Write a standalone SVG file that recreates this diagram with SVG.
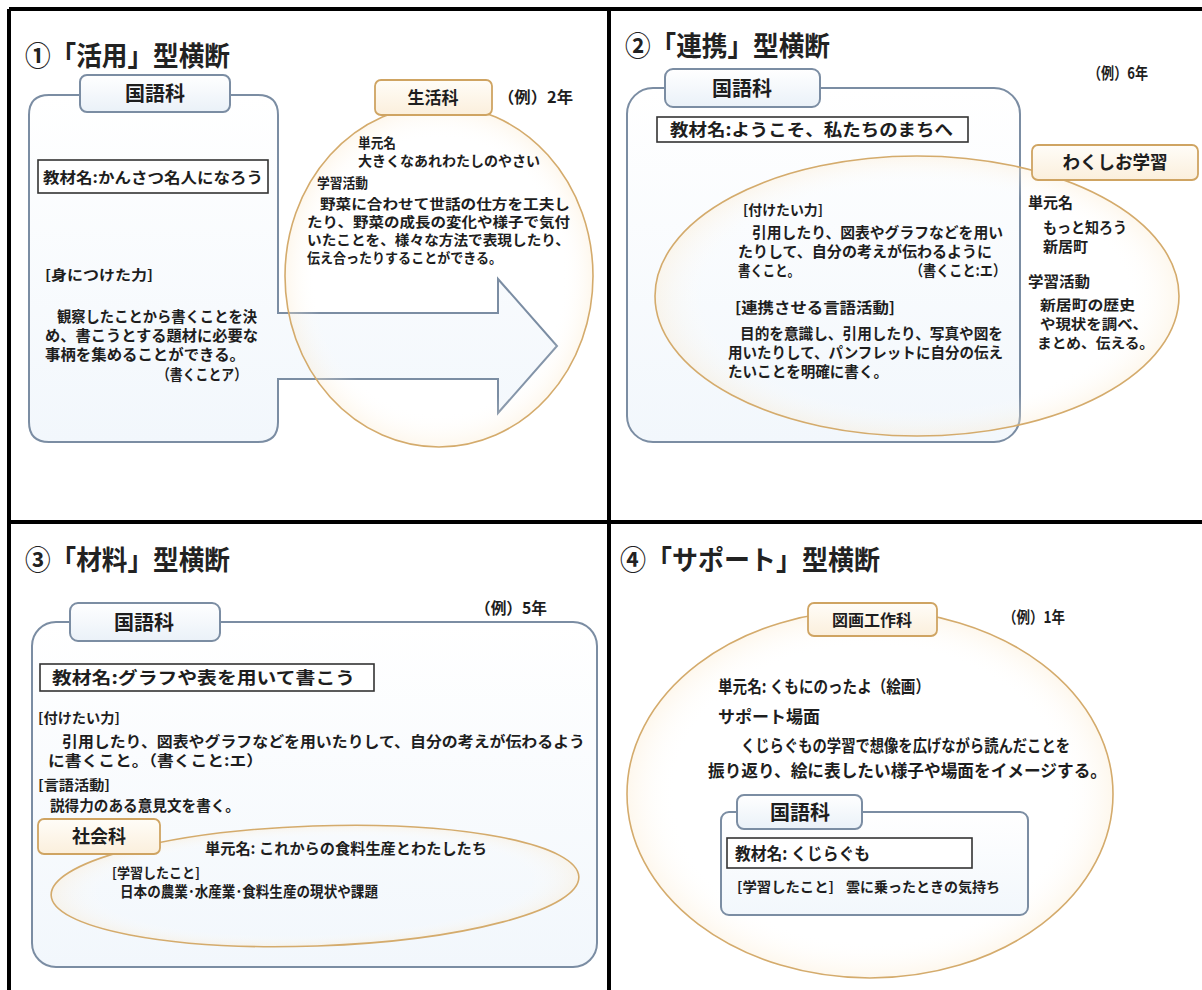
<svg xmlns="http://www.w3.org/2000/svg" width="1202" height="990" viewBox="0 0 1202 990">
<defs>
<style>
.t{font-family:"Noto Sans CJK JP","Noto Sans CJK SC",sans-serif;font-weight:bold;fill:#1e1e1e}
.ti{font-size:27px;fill:#222}
.s14{font-size:14px}.s15{font-size:15px}.s16{font-size:16px}.s17{font-size:17px}.s18{font-size:18px}.s20{font-size:20px}
.mid{text-anchor:middle}
.box{fill:url(#boxg);stroke:#7b8da3;stroke-width:2}
.tabb{fill:url(#tabg);stroke:#7b8da3;stroke-width:2}
.ell{fill:url(#ellg);stroke:#d4ab6c;stroke-width:1.6}
.tabo{fill:url(#tabog);stroke:#cfa462;stroke-width:1.8}
.name{fill:#fff;stroke:#333;stroke-width:1.6}
.frame{stroke:#000;stroke-width:4;fill:none}
</style>
<linearGradient id="boxg" x1="0" y1="0" x2="0" y2="1"><stop offset="0" stop-color="#ffffff"/><stop offset="1" stop-color="#f2f7fc"/></linearGradient>
<linearGradient id="tabg" x1="0" y1="0" x2="0" y2="1"><stop offset="0" stop-color="#ffffff"/><stop offset="1" stop-color="#eaf1f8"/></linearGradient>
<linearGradient id="tabog" x1="0" y1="0" x2="0" y2="1"><stop offset="0" stop-color="#fffdf8"/><stop offset="1" stop-color="#fbefdc"/></linearGradient>
<radialGradient id="ellg" cx="0.5" cy="0.5" r="0.5"><stop offset="0.8" stop-color="#ffffff" stop-opacity="0"/><stop offset="1" stop-color="#fbe9cc" stop-opacity="0.35"/></radialGradient>
</defs>
<rect width="1202" height="990" fill="#fff"/>

<g id="frame">
<path class="frame" d="M9,9 H1202 M9,9 V990 M609,9 V990 M9,522 H1202"/>
</g>

<g id="connectors"></g>

<!-- Quadrant 1 -->
<g id="q1-title"><text class="t ti" x="25" y="66" textLength="205" lengthAdjust="spacingAndGlyphs">①「活用」型横断</text></g>
<g id="q1-kokugo">
<path class="box" d="M49,95 H258 Q278,95 278,115 V313 H498 V279 L557,346 L498,413 V379 H278 V422 Q278,442 258,442 H49 Q29,442 29,422 V115 Q29,95 49,95 Z"/>
<rect class="tabb" x="80" y="75" width="150" height="37" rx="7"/>
<text class="t s20 mid" x="155" y="101">国語科</text>
<rect class="name" x="38" y="160" width="230" height="33"/>
<text class="t s15" x="43" y="183" textLength="220" lengthAdjust="spacingAndGlyphs">教材名:かんさつ名人になろう</text>
<text class="t s14" x="45" y="280" textLength="108" lengthAdjust="spacingAndGlyphs">[身につけた力]</text>
<text class="t s15" x="57" y="322" textLength="200" lengthAdjust="spacingAndGlyphs">観察したことから書くことを決</text>
<text class="t s15" x="45" y="341" textLength="213" lengthAdjust="spacingAndGlyphs">め、書こうとする題材に必要な</text>
<text class="t s15" x="45" y="360" textLength="200" lengthAdjust="spacingAndGlyphs">事柄を集めることができる。</text>
<text class="t s15" x="157" y="380" textLength="90" lengthAdjust="spacingAndGlyphs">（書くことア）</text>
</g>
<g id="q1-seikatsu">
<ellipse class="ell" cx="439" cy="276" rx="154" ry="171"/>
<rect class="tabo" x="375" y="80" width="117" height="35" rx="6"/>
<text class="t s17 mid" x="433" y="104">生活科</text>
<text class="t s16" x="498" y="103" textLength="75" lengthAdjust="spacingAndGlyphs">（例）2年</text>
<text class="t s14" x="358" y="148" textLength="38" lengthAdjust="spacingAndGlyphs">単元名</text>
<text class="t s14" x="358" y="166" textLength="182" lengthAdjust="spacingAndGlyphs">大きくなあれわたしのやさい</text>
<text class="t s14" x="317" y="188" textLength="51" lengthAdjust="spacingAndGlyphs">学習活動</text>
<text class="t s14" x="320" y="209" textLength="250" lengthAdjust="spacingAndGlyphs">野菜に合わせて世話の仕方を工夫し</text>
<text class="t s14" x="307" y="227" textLength="263" lengthAdjust="spacingAndGlyphs">たり、野菜の成長の変化や様子で気付</text>
<text class="t s14" x="307" y="245" textLength="263" lengthAdjust="spacingAndGlyphs">いたことを、様々な方法で表現したり、</text>
<text class="t s14" x="307" y="263" textLength="195" lengthAdjust="spacingAndGlyphs">伝え合ったりすることができる。</text>
</g>

<!-- Quadrant 2 -->
<g id="q2-title"><text class="t ti" x="625" y="56" textLength="205" lengthAdjust="spacingAndGlyphs">②「連携」型横断</text></g>
<g id="q2-kokugo">
<rect class="box" x="627" y="88" width="393" height="354" rx="26"/>
<rect class="tabb" x="665" y="69" width="155" height="38" rx="8"/>
<text class="t s20 mid" x="742" y="96">国語科</text>
<text class="t s16" x="1088" y="79" textLength="60" lengthAdjust="spacingAndGlyphs">（例）6年</text>
<rect class="name" x="657" y="117" width="311" height="25"/>
<text class="t s17" x="670" y="136" textLength="283" lengthAdjust="spacingAndGlyphs">教材名:ようこそ、私たちのまちへ</text>
</g>
<g id="q2-wakushio">
<ellipse class="ell" cx="917" cy="296" rx="262" ry="140"/>
<rect class="tabo" x="1032" y="145" width="166" height="35" rx="6"/>
<text class="t s18 mid" x="1115" y="169" textLength="105" lengthAdjust="spacingAndGlyphs">わくしお学習</text>
<text class="t s14" x="743" y="215" textLength="80" lengthAdjust="spacingAndGlyphs">[付けたい力]</text>
<text class="t s15" x="752" y="238" textLength="251" lengthAdjust="spacingAndGlyphs">引用したり、図表やグラフなどを用い</text>
<text class="t s15" x="738" y="257" textLength="254" lengthAdjust="spacingAndGlyphs">たりして、自分の考えが伝わるように</text>
<text class="t s15" x="738" y="276" textLength="62" lengthAdjust="spacingAndGlyphs">書くこと。</text>
<text class="t s15" x="910" y="276" textLength="96" lengthAdjust="spacingAndGlyphs">（書くこと:エ）</text>
<text class="t s15" x="735" y="313" textLength="160" lengthAdjust="spacingAndGlyphs">[連携させる言語活動]</text>
<text class="t s15" x="740" y="339" textLength="263" lengthAdjust="spacingAndGlyphs">目的を意識し、引用したり、写真や図を</text>
<text class="t s15" x="728" y="358" textLength="275" lengthAdjust="spacingAndGlyphs">用いたりして、パンフレットに自分の伝え</text>
<text class="t s15" x="728" y="377" textLength="160" lengthAdjust="spacingAndGlyphs">たいことを明確に書く。</text>
<text class="t s15" x="1028" y="208" textLength="45" lengthAdjust="spacingAndGlyphs">単元名</text>
<text class="t s15" x="1043" y="233" textLength="84" lengthAdjust="spacingAndGlyphs">もっと知ろう</text>
<text class="t s15" x="1043" y="252" textLength="45" lengthAdjust="spacingAndGlyphs">新居町</text>
<text class="t s15" x="1028" y="287" textLength="62" lengthAdjust="spacingAndGlyphs">学習活動</text>
<text class="t s14" x="1040" y="310" textLength="95" lengthAdjust="spacingAndGlyphs">新居町の歴史</text>
<text class="t s14" x="1040" y="329" textLength="108" lengthAdjust="spacingAndGlyphs">や現状を調べ、</text>
<text class="t s14" x="1037" y="348" textLength="117" lengthAdjust="spacingAndGlyphs">まとめ、伝える。</text>
</g>

<!-- Quadrant 3 -->
<g id="q3-title"><text class="t ti" x="25" y="570" textLength="205" lengthAdjust="spacingAndGlyphs">③「材料」型横断</text></g>
<g id="q3-kokugo">
<rect class="box" x="32" y="622" width="565" height="345" rx="24"/>
<rect class="tabb" x="70" y="603" width="150" height="38" rx="8"/>
<text class="t s20 mid" x="144" y="630">国語科</text>
<text class="t s16" x="475" y="614" textLength="72" lengthAdjust="spacingAndGlyphs">（例）5年</text>
<rect class="name" x="40" y="664" width="334" height="27"/>
<text class="t s17" x="52" y="684" textLength="303" lengthAdjust="spacingAndGlyphs">教材名:グラフや表を用いて書こう</text>
<text class="t s14" x="38" y="723" textLength="82" lengthAdjust="spacingAndGlyphs">[付けたい力]</text>
<text class="t s15" x="62" y="747" textLength="523" lengthAdjust="spacingAndGlyphs">引用したり、図表やグラフなどを用いたりして、自分の考えが伝わるよう</text>
<text class="t s15" x="48" y="766" textLength="215" lengthAdjust="spacingAndGlyphs">に書くこと。（書くこと:エ）</text>
<text class="t s14" x="38" y="790" textLength="72" lengthAdjust="spacingAndGlyphs">[言語活動]</text>
<text class="t s15" x="50" y="811" textLength="190" lengthAdjust="spacingAndGlyphs">説得力のある意見文を書く。</text>
</g>
<g id="q3-shakai">
<ellipse class="ell" cx="315" cy="886" rx="264" ry="60" transform="rotate(-2 315 886)"/>
<rect class="tabo" x="38" y="819" width="122" height="35" rx="6"/>
<text class="t s18 mid" x="99" y="843">社会科</text>
<text class="t s15" x="205" y="854" textLength="282" lengthAdjust="spacingAndGlyphs">単元名: これからの食料生産とわたしたち</text>
<text class="t s14" x="112" y="878" textLength="88" lengthAdjust="spacingAndGlyphs">[学習したこと]</text>
<text class="t s15" x="120" y="897" textLength="258" lengthAdjust="spacingAndGlyphs">日本の農業･水産業･食料生産の現状や課題</text>
</g>

<!-- Quadrant 4 -->
<g id="q4-title"><text class="t ti" x="620" y="570" textLength="260" lengthAdjust="spacingAndGlyphs">④「サポート」型横断</text></g>
<g id="q4-zuga">
<ellipse class="ell" cx="870" cy="794" rx="243" ry="184"/>
<rect class="tabo" x="808" y="603" width="129" height="33" rx="6"/>
<text class="t s16 mid" x="872" y="626">図画工作科</text>
<text class="t s16" x="1003" y="623" textLength="62" lengthAdjust="spacingAndGlyphs">（例）1年</text>
<text class="t s17" x="718" y="693" textLength="212" lengthAdjust="spacingAndGlyphs">単元名: くもにのったよ（絵画）</text>
<text class="t s17" x="718" y="723" textLength="102" lengthAdjust="spacingAndGlyphs">サポート場面</text>
<text class="t s17" x="741" y="752" textLength="329" lengthAdjust="spacingAndGlyphs">くじらぐもの学習で想像を広げながら読んだことを</text>
<text class="t s17" x="708" y="777" textLength="399" lengthAdjust="spacingAndGlyphs">振り返り、絵に表したい様子や場面をイメージする。</text>
</g>
<g id="q4-kokugo">
<rect class="box" x="721" y="812" width="307" height="103" rx="8"/>
<rect class="tabb" x="737" y="795" width="125" height="34" rx="7"/>
<text class="t s20 mid" x="800" y="820">国語科</text>
<rect class="name" x="727" y="838" width="245" height="30"/>
<text class="t s17" x="735" y="860" textLength="135" lengthAdjust="spacingAndGlyphs">教材名: くじらぐも</text>
<text class="t s14" x="737" y="892" textLength="97" lengthAdjust="spacingAndGlyphs">[学習したこと]</text>
<text class="t s14" x="846" y="892" textLength="154" lengthAdjust="spacingAndGlyphs">雲に乗ったときの気持ち</text>
</g>
</svg>
